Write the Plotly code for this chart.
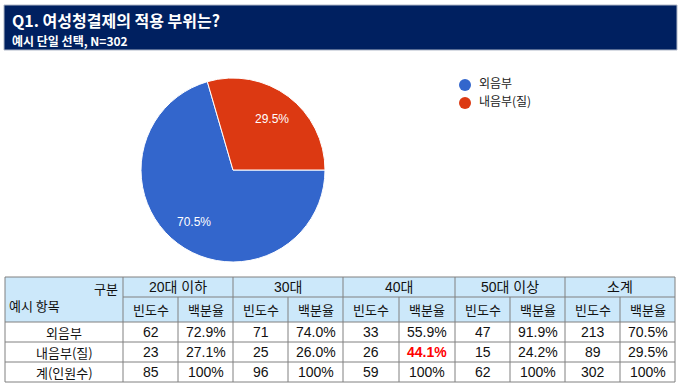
import math
import plotly.graph_objects as go

# ---------------- data ----------------
title = "Q1. 여성청결제의 적용 부위는?"
subtitle = "예시 단일 선택, N=302"
categories = ["외음부", "내음부(질)"]
pie_values = [70.5, 29.5]
colors = ["#3366CC", "#DC3912"]

groups = ["20대 이하", "30대", "40대", "50대 이상", "소계"]
sub_headers = ["빈도수", "백분율"]
row_labels = ["외음부", "내음부(질)", "계(인원수)"]
freq = [[62, 71, 33, 47, 213],
        [23, 25, 26, 15, 89],
        [85, 96, 59, 62, 302]]
pct = [["72.9%", "74.0%", "55.9%", "91.9%", "70.5%"],
       ["27.1%", "26.0%", "44.1%", "24.2%", "29.5%"],
       ["100%", "100%", "100%", "100%", "100%"]]
highlight = (1, 2)  # row, group with red emphasised percentage

# ---------------- layout constants ----------------
W, H = 680, 385
FONT = "Liberation Sans, Noto Sans CJK KR, sans-serif"
KFONT = "Noto Sans CJK KR, sans-serif"

fig = go.Figure()

# pie
cx, cy, r = 233, 170, 92
start_deg = 90  # compass degrees, clockwise from 12 o'clock
fig.add_trace(go.Pie(
    labels=categories, values=pie_values, sort=False, direction="clockwise",
    rotation=start_deg, marker=dict(colors=colors, line=dict(color="white", width=1)),
    textinfo="none",
    domain=dict(x=[(cx - r) / W, (cx + r) / W], y=[1 - (cy + r) / H, 1 - (cy - r) / H]),
    showlegend=False, hoverinfo="label+percent",
))

shapes = []
ann = []

# slice labels positioned at 0.7 r along each slice's mid angle
total = sum(pie_values)
acc = 0.0
for v in pie_values:
    mid = start_deg + (acc + v / 2) / total * 360
    acc += v
    a = math.radians(mid)
    ann.append(dict(x=cx + 0.7 * r * math.sin(a), y=cy - 0.7 * r * math.cos(a), xref="x", yref="y",
                    text=f"{v:.1f}%", showarrow=False, xanchor="center", yanchor="middle",
                    font=dict(color="white", size=12, family=FONT)))

# legend built as markers on pixel axes
leg_x, leg_y0, leg_dy = 465, 85, 18
fig.add_trace(go.Scatter(
    x=[leg_x] * len(categories), y=[leg_y0 + i * leg_dy for i in range(len(categories))],
    mode="markers+text", text=["  " + c for c in categories], textposition="middle right",
    textfont=dict(size=12, color="#222", family=KFONT),
    marker=dict(size=12, color=colors), showlegend=False, hoverinfo="skip",
))

# title bar
shapes.append(dict(type="rect", xref="x", yref="y", x0=4, x1=677, y0=5, y1=50,
                   fillcolor="#002060", line=dict(color="#b0b8c8", width=1), layer="below"))
ann.append(dict(x=10, y=20, xref="x", yref="y", text="<b>" + title + "</b>", showarrow=False,
                xanchor="left", yanchor="middle", font=dict(color="white", size=16, family=KFONT)))
ann.append(dict(x=10, y=40, xref="x", yref="y", text="<b>" + subtitle + "</b>", showarrow=False,
                xanchor="left", yanchor="middle", font=dict(color="white", size=12, family=KFONT)))

# table geometry
tx0 = 5
col_w0 = 118
gw = [110, 110, 112, 110, 110]
row_y = [277, 297, 322, 342, 362, 382]
grid = "#808080"
hdr_fill = "#CCE8FA"

gx = [tx0 + col_w0]
for w in gw:
    gx.append(gx[-1] + w)
tx1 = gx[-1]

shapes.append(dict(type="rect", xref="x", yref="y", x0=tx0, x1=tx1, y0=row_y[0], y1=row_y[2],
                   fillcolor=hdr_fill, line=dict(width=0), layer="below"))
shapes.append(dict(type="rect", xref="x", yref="y", x0=tx0, x1=tx1, y0=row_y[2], y1=row_y[5],
                   fillcolor="white", line=dict(width=0), layer="below"))


def hline(x0, x1, y):
    shapes.append(dict(type="line", xref="x", yref="y", x0=x0, x1=x1, y0=y, y1=y,
                       line=dict(color=grid, width=1)))


def vline(x, y0, y1):
    shapes.append(dict(type="line", xref="x", yref="y", x0=x, x1=x, y0=y0, y1=y1,
                       line=dict(color=grid, width=1)))


hline(tx0, tx1, row_y[0])
hline(gx[0], tx1, row_y[1])
for y in row_y[2:]:
    hline(tx0, tx1, y)
vline(tx0, row_y[0], row_y[-1])
for x in gx:
    vline(x, row_y[0], row_y[-1])
for i in range(len(gw)):
    vline((gx[i] + gx[i + 1]) / 2, row_y[1], row_y[-1])

# header texts
ann.append(dict(x=gx[0] - 3, y=(row_y[0] + row_y[1]) / 2 + 1, xref="x", yref="y", text="구분",
                showarrow=False, xanchor="right", yanchor="middle",
                font=dict(size=13, color="#111", family=KFONT)))
ann.append(dict(x=tx0 + 2, y=(row_y[1] + row_y[2]) / 2 - 4, xref="x", yref="y", text="예시 항목",
                showarrow=False, xanchor="left", yanchor="middle",
                font=dict(size=13, color="#111", family=KFONT)))
for i, g in enumerate(groups):
    ann.append(dict(x=(gx[i] + gx[i + 1]) / 2, y=(row_y[0] + row_y[1]) / 2, xref="x", yref="y",
                    text=g, showarrow=False, xanchor="center", yanchor="middle",
                    font=dict(size=14, color="#111", family=FONT)))
    for j, s in enumerate(sub_headers):
        ann.append(dict(x=gx[i] + gw[i] * (0.25 + 0.5 * j), y=(row_y[1] + row_y[2]) / 2,
                        xref="x", yref="y", text=s, showarrow=False, xanchor="center",
                        yanchor="middle", font=dict(size=13, color="#111", family=KFONT)))

# body
for ri, lab in enumerate(row_labels):
    yc = (row_y[2 + ri] + row_y[3 + ri]) / 2
    ann.append(dict(x=(tx0 + gx[0]) / 2, y=yc, xref="x", yref="y", text=lab, showarrow=False,
                    xanchor="center", yanchor="middle",
                    font=dict(size=13, color="#111", family=KFONT)))
    for i in range(len(groups)):
        ann.append(dict(x=gx[i] + gw[i] * 0.25, y=yc, xref="x", yref="y", text=str(freq[ri][i]),
                        showarrow=False, xanchor="center", yanchor="middle",
                        font=dict(size=14, color="#111", family=FONT)))
        t = pct[ri][i]
        col = "#111"
        if (ri, i) == highlight:
            t = "<b>" + t + "</b>"
            col = "#FF0000"
        ann.append(dict(x=gx[i] + gw[i] * 0.75, y=yc, xref="x", yref="y", text=t,
                        showarrow=False, xanchor="center", yanchor="middle",
                        font=dict(size=14, color=col, family=FONT)))

fig.update_layout(
    width=W, height=H, margin=dict(l=0, r=0, t=0, b=0),
    paper_bgcolor="white", plot_bgcolor="white",
    xaxis=dict(range=[0, W], visible=False, fixedrange=True, domain=[0, 1]),
    yaxis=dict(range=[H, 0], visible=False, fixedrange=True, domain=[0, 1]),
    shapes=shapes, annotations=ann, showlegend=False,
)

fig.write_html("out.html", config={"displayModeBar": False},
               post_script="document.body.style.margin='0';document.body.style.overflow='hidden';")
